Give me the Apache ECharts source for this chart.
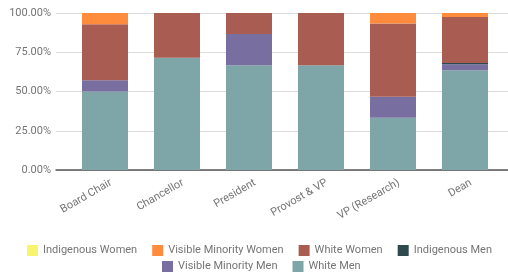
<!DOCTYPE html>
<html><head><meta charset="utf-8">
<script src="https://cdn.jsdelivr.net/npm/echarts@6/dist/echarts.min.js"></script>
<style>html,body{margin:0;padding:0;background:#fff}#c{width:508px;height:272px}</style>
</head><body><div id="c"></div>
<script>
const categories = ['Board Chair','Chancellor','President','Provost & VP','VP (Research)','Dean'];
const whiteMen = [50.0, 71.43, 66.67, 66.67, 33.33, 63.6];
const visibleMinorityMen = [7.14, 0, 20.0, 0, 13.33, 3.8];
const indigenousMen = [0, 0, 0, 0, 0, 0.8];
const whiteWomen = [35.72, 28.57, 13.33, 33.33, 46.67, 29.2];
const visibleMinorityWomen = [7.14, 0, 0, 0, 6.67, 2.6];
const indigenousWomen = [0, 0, 0, 0, 0, 0];
const yTicks = [0, 25, 50, 75, 100];

const colors = {
  'Indigenous Women':'#f7f56e',
  'Visible Minority Women':'#ff8c3c',
  'White Women':'#a85c52',
  'Indigenous Men':'#2f4a4f',
  'Visible Minority Men':'#786ea0',
  'White Men':'#7ea5a8'
};
const stackOrder = [
  ['White Men', whiteMen],
  ['Visible Minority Men', visibleMinorityMen],
  ['Indigenous Men', indigenousMen],
  ['White Women', whiteWomen],
  ['Visible Minority Women', visibleMinorityWomen],
  ['Indigenous Women', indigenousWomen]
];
const txt = '#757575';
const font = 'Roboto';
const chart = echarts.init(document.getElementById('c'));
chart.setOption({
  animation:false,
  textStyle:{fontFamily:font},
  grid:[
    {left:69,right:7,top:13,bottom:102},
    {left:56,right:0,top:13,bottom:102},
    {left:75,right:1,top:13,bottom:102}
  ],
  xAxis:[
    {type:'category',data:categories,gridIndex:0,axisLine:{show:false},axisTick:{show:false},
     axisLabel:{show:false}},
    {type:'value',gridIndex:1,min:0,max:1,axisLine:{show:true,lineStyle:{color:'#555',width:1.5}},
     axisTick:{show:false},axisLabel:{show:false},splitLine:{show:false}},
    {type:'category',data:categories,gridIndex:2,axisLine:{show:false},axisTick:{show:false},
     axisLabel:{rotate:30,color:txt,fontSize:11,margin:12,interval:0,fontFamily:font}}
  ],
  yAxis:[
    {type:'value',gridIndex:0,min:yTicks[0],max:yTicks[yTicks.length-1],interval:25,show:false},
    {type:'value',gridIndex:1,min:yTicks[0],max:yTicks[yTicks.length-1],interval:25,
     axisLine:{show:false},axisTick:{show:false},
     axisLabel:{color:txt,fontSize:11,margin:5,fontFamily:font,formatter:v=>v.toFixed(2)+'%'},
     splitLine:{lineStyle:{color:'#dcdcdc'}}},
    {type:'value',gridIndex:2,min:0,max:100,show:false}
  ],
  legend:[
    {data:['Indigenous Women','Visible Minority Women','White Women','Indigenous Men'],
     left:27,top:245,padding:0,itemWidth:11,itemHeight:11,itemGap:15,icon:'rect',
     textStyle:{color:txt,fontSize:11,fontFamily:font}},
    {data:['Visible Minority Men','White Men'],
     left:162,top:261,padding:0,itemWidth:11,itemHeight:11,itemGap:15,icon:'rect',
     textStyle:{color:txt,fontSize:11,fontFamily:font}}
  ],
  series:stackOrder.map(([name,vals])=>({
    name, type:'bar', stack:'all', data:vals, barWidth:46,
    xAxisIndex:0, yAxisIndex:0,
    itemStyle:{color:colors[name]}
  }))
});
</script></body></html>
